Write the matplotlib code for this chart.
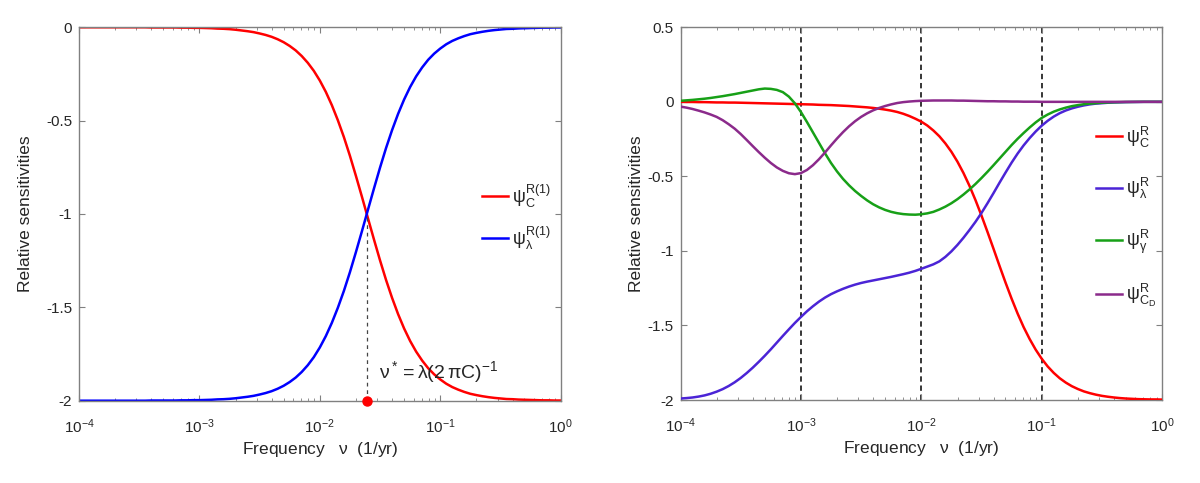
import numpy as np
import matplotlib
matplotlib.use("Agg")
import matplotlib.pyplot as plt
from matplotlib.ticker import FuncFormatter, LogLocator, NullFormatter, FixedLocator

plt.rcParams['font.family'] = ['Liberation Sans', 'DejaVu Sans']
plt.rcParams['mathtext.fontset'] = 'custom'
plt.rcParams['mathtext.rm'] = 'Liberation Sans'
plt.rcParams['mathtext.it'] = 'Liberation Sans:italic'
plt.rcParams['mathtext.bf'] = 'Liberation Sans:bold'
plt.rcParams['mathtext.default'] = 'regular'
plt.rcParams['axes.unicode_minus'] = False

# ---------------- data (log10 of frequency, 1/yr) ----------------
log_freq = [-4.00, -3.95, -3.90, -3.85, -3.80, -3.75, -3.70, -3.65, -3.60, -3.55,
            -3.50, -3.45, -3.40, -3.35, -3.30, -3.25, -3.20, -3.15, -3.10, -3.05,
            -3.00, -2.95, -2.90, -2.85, -2.80, -2.75, -2.70, -2.65, -2.60, -2.55,
            -2.50, -2.45, -2.40, -2.35, -2.30, -2.25, -2.20, -2.15, -2.10, -2.05,
            -2.00, -1.95, -1.90, -1.85, -1.80, -1.75, -1.70, -1.65, -1.60, -1.55,
            -1.50, -1.45, -1.40, -1.35, -1.30, -1.25, -1.20, -1.15, -1.10, -1.05,
            -1.00, -0.95, -0.90, -0.85, -0.80, -0.75, -0.70, -0.65, -0.60, -0.55,
            -0.50, -0.45, -0.40, -0.35, -0.30, -0.25, -0.20, -0.15, -0.10, -0.05,
            0.00]

# left panel: first-order sensitivities
psi_C_R1 = [0.000, -0.000, -0.000, -0.000, -0.000, -0.000, -0.000, -0.000, -0.000, -0.000,
            -0.000, -0.000, -0.001, -0.001, -0.001, -0.001, -0.001, -0.002, -0.002, -0.003,
            -0.003, -0.004, -0.005, -0.007, -0.008, -0.010, -0.013, -0.017, -0.021, -0.026,
            -0.033, -0.041, -0.051, -0.064, -0.080, -0.100, -0.124, -0.154, -0.190, -0.233,
            -0.285, -0.346, -0.417, -0.498, -0.588, -0.688, -0.796, -0.908, -1.023, -1.137,
            -1.248, -1.353, -1.449, -1.536, -1.613, -1.680, -1.737, -1.785, -1.826, -1.859,
            -1.886, -1.909, -1.927, -1.941, -1.953, -1.963, -1.970, -1.976, -1.981, -1.985,
            -1.988, -1.991, -1.992, -1.994, -1.995, -1.996, -1.997, -1.998, -1.998, -1.999,
            -1.999]
psi_L_R1 = [-2.000, -2.000, -2.000, -2.000, -2.000, -2.000, -2.000, -2.000, -2.000, -2.000,
            -2.000, -2.000, -1.999, -1.999, -1.999, -1.999, -1.999, -1.998, -1.998, -1.997,
            -1.997, -1.996, -1.995, -1.993, -1.992, -1.990, -1.987, -1.983, -1.979, -1.974,
            -1.967, -1.959, -1.949, -1.936, -1.920, -1.900, -1.876, -1.846, -1.810, -1.767,
            -1.715, -1.654, -1.583, -1.502, -1.412, -1.312, -1.204, -1.092, -0.977, -0.863,
            -0.752, -0.647, -0.551, -0.464, -0.387, -0.320, -0.263, -0.215, -0.174, -0.141,
            -0.114, -0.091, -0.073, -0.059, -0.047, -0.037, -0.030, -0.024, -0.019, -0.015,
            -0.012, -0.009, -0.008, -0.006, -0.005, -0.004, -0.003, -0.002, -0.002, -0.001,
            -0.001]
NU_STAR = 0.0245
CROSS_VALUE = -1.0
Y_BOTTOM_LEFT = -2.0

# right panel: sensitivities
psi_C_R = [0.000, -0.001, -0.001, -0.002, -0.002, -0.003, -0.004, -0.004, -0.005, -0.005,
           -0.006, -0.007, -0.008, -0.009, -0.010, -0.011, -0.012, -0.013, -0.014, -0.015,
           -0.016, -0.017, -0.018, -0.020, -0.021, -0.022, -0.024, -0.026, -0.028, -0.031,
           -0.034, -0.037, -0.041, -0.046, -0.052, -0.059, -0.068, -0.080, -0.095, -0.113,
           -0.133, -0.159, -0.192, -0.231, -0.279, -0.335, -0.401, -0.477, -0.563, -0.659,
           -0.763, -0.873, -0.986, -1.101, -1.213, -1.320, -1.420, -1.511, -1.591, -1.662,
           -1.723, -1.775, -1.818, -1.854, -1.883, -1.907, -1.926, -1.942, -1.954, -1.964,
           -1.972, -1.978, -1.983, -1.987, -1.990, -1.992, -1.994, -1.995, -1.996, -1.996,
           -1.997]
psi_L_R = [-1.990, -1.987, -1.983, -1.977, -1.969, -1.958, -1.944, -1.927, -1.906, -1.881,
           -1.852, -1.819, -1.783, -1.744, -1.703, -1.660, -1.615, -1.570, -1.526, -1.483,
           -1.443, -1.405, -1.371, -1.340, -1.313, -1.290, -1.271, -1.254, -1.239, -1.226,
           -1.215, -1.206, -1.198, -1.190, -1.182, -1.174, -1.165, -1.156, -1.146, -1.134,
           -1.120, -1.105, -1.090, -1.070, -1.040, -1.003, -0.960, -0.912, -0.860, -0.805,
           -0.745, -0.680, -0.612, -0.542, -0.474, -0.408, -0.347, -0.292, -0.243, -0.199,
           -0.160, -0.127, -0.099, -0.076, -0.058, -0.044, -0.033, -0.024, -0.017, -0.012,
           -0.009, -0.006, -0.004, -0.003, -0.002, -0.001, -0.001, 0.000, 0.000, 0.000,
           0.000]
psi_G_R = [0.007, 0.010, 0.013, 0.017, 0.021, 0.026, 0.032, 0.038, 0.045, 0.052,
           0.060, 0.068, 0.076, 0.084, 0.089, 0.087, 0.080, 0.065, 0.035, -0.010,
           -0.068, -0.135, -0.205, -0.275, -0.345, -0.410, -0.467, -0.517, -0.560, -0.598,
           -0.631, -0.661, -0.687, -0.708, -0.725, -0.738, -0.747, -0.753, -0.756, -0.757,
           -0.754, -0.748, -0.738, -0.722, -0.703, -0.680, -0.653, -0.622, -0.588, -0.551,
           -0.511, -0.469, -0.425, -0.380, -0.335, -0.290, -0.248, -0.209, -0.172, -0.138,
           -0.108, -0.085, -0.066, -0.051, -0.039, -0.029, -0.022, -0.016, -0.012, -0.009,
           -0.006, -0.004, -0.003, -0.002, -0.001, -0.001, 0.000, 0.000, 0.000, 0.000,
           0.000]
psi_CD_R = [-0.032, -0.039, -0.048, -0.059, -0.071, -0.085, -0.101, -0.123, -0.150, -0.180,
            -0.216, -0.256, -0.297, -0.337, -0.375, -0.410, -0.440, -0.463, -0.479, -0.485,
            -0.478, -0.457, -0.425, -0.385, -0.340, -0.292, -0.246, -0.203, -0.164, -0.130,
            -0.101, -0.077, -0.057, -0.041, -0.028, -0.017, -0.008, -0.002, 0.002, 0.005,
            0.007, 0.008, 0.009, 0.009, 0.009, 0.009, 0.008, 0.008, 0.007, 0.006,
            0.005, 0.004, 0.004, 0.003, 0.003, 0.002, 0.002, 0.001, 0.001, 0.001,
            0.000, 0.000, 0.000, 0.000, 0.000, 0.000, 0.000, 0.000, 0.000, 0.000,
            0.000, 0.000, 0.000, 0.000, 0.000, 0.000, 0.000, 0.000, 0.000, 0.000,
            0.000]
dashed_freqs = [1e-3, 1e-2, 1e-1]

left_yticks = [-2, -1.5, -1, -0.5, 0]
right_yticks = [-2, -1.5, -1, -0.5, 0, 0.5]

labels_left = [r'$\psi_C^{R(1)}$', r'$\psi_\lambda^{R(1)}$']
labels_right = [r'$\psi_C^R$', r'$\psi_\lambda^R$', r'$\psi_\gamma^R$', r'$\psi_{C_D}^R$']

freq = [10.0 ** v for v in log_freq]

# ---------------- styling ----------------
SPINE = '#808080'
TXT = '#262626'
LW = 1.8

fig = plt.figure(figsize=(12, 4.83), dpi=100)
ax1 = fig.add_axes([0.0658, 0.1704, 0.4014, 0.7731])
ax2 = fig.add_axes([0.5671, 0.1718, 0.4013, 0.7717])


def style(ax, yticks, ylabelpad):
    ax.set_xscale('log')
    ax.set_xlim(1e-4, 1)
    ax.set_ylim(yticks[0], yticks[-1])
    ax.xaxis.set_major_locator(LogLocator(base=10, numticks=10))
    ax.xaxis.set_minor_locator(LogLocator(base=10, subs=range(2, 10), numticks=10))
    ax.xaxis.set_minor_formatter(NullFormatter())
    ax.yaxis.set_major_locator(FixedLocator(yticks))
    ax.yaxis.set_major_formatter(FuncFormatter(lambda v, p: '%g' % v))
    ax.tick_params(which='both', direction='in', top=True, right=True,
                   color=SPINE, labelcolor=TXT, labelsize=11)
    ax.tick_params(which='major', length=4, width=0.8)
    ax.tick_params(which='minor', length=2.5, width=0.6)
    ax.tick_params(axis='x', pad=12)
    ax.tick_params(axis='y', pad=5)
    for s in ax.spines.values():
        s.set_color(SPINE)
        s.set_linewidth(1.0)
    ax.set_xlabel(r'Frequency   $\nu$  (1/yr)', fontsize=12.5, color=TXT, labelpad=3)
    ax.set_ylabel('Relative sensitivities', fontsize=12.5, color=TXT, labelpad=ylabelpad)


# ---- left panel ----
style(ax1, left_yticks, 9)
ax1.plot(freq, psi_C_R1, color='#ff0000', lw=LW, label=labels_left[0])
ax1.plot(freq, psi_L_R1, color='#0000ff', lw=LW, label=labels_left[1])
ax1.vlines(NU_STAR, Y_BOTTOM_LEFT, CROSS_VALUE, colors='#444444', linestyles=(0, (3, 3)), lw=0.9)
ax1.plot([NU_STAR], [Y_BOTTOM_LEFT], 'o', color='#ff0000', ms=6.5, clip_on=False, zorder=5)
ax1.text(NU_STAR * 1.26, -1.88, r'$\nu^*= \lambda(2\,\pi C)^{-1}$', fontsize=14,
         color=TXT, ha='left', va='baseline')
leg1 = ax1.legend(loc='center left', bbox_to_anchor=(0.836, 0.492), frameon=False,
                  fontsize=13, handlelength=1.45, handletextpad=0.25, labelspacing=0.82,
                  borderpad=0, borderaxespad=0)
for t in leg1.get_texts():
    t.set_color(TXT)

# ---- right panel ----
style(ax2, right_yticks, 2.5)
for f in dashed_freqs:
    ax2.axvline(f, color='k', lw=1.1, linestyle=(0, (3.5, 2.5)), zorder=1)
ax2.plot(freq, psi_C_R, color='#ff0000', lw=LW, label=labels_right[0], zorder=3)
ax2.plot(freq, psi_L_R, color='#4b24d6', lw=LW, label=labels_right[1], zorder=3)
ax2.plot(freq, psi_G_R, color='#17a017', lw=LW, label=labels_right[2], zorder=3)
ax2.plot(freq, psi_CD_R, color='#8b2a8b', lw=LW, label=labels_right[3], zorder=3)
leg2 = ax2.legend(loc='center left', bbox_to_anchor=(0.862, 0.491), frameon=False,
                  fontsize=13, handlelength=1.45, handletextpad=0.25, labelspacing=1.46,
                  borderpad=0, borderaxespad=0)
for t in leg2.get_texts():
    t.set_color(TXT)

fig.savefig('out.png', dpi=100)
